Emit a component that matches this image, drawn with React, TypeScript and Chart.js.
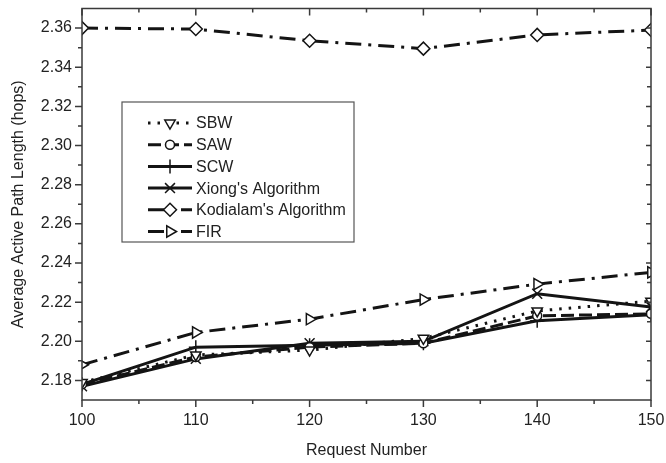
import React, { useEffect, useRef } from 'react';
import { Chart, registerables } from 'chart.js';
import { drawPoint } from 'chart.js/helpers';
Chart.register(...registerables);

const requests = [100, 110, 120, 130, 140, 150];
const sbw = [2.179, 2.193, 2.1955, 2.2015, 2.2155, 2.2205];
const saw = [2.178, 2.192, 2.197, 2.199, 2.213, 2.214];
const scw = [2.178, 2.197, 2.198, 2.199, 2.2105, 2.2135];
const xiong = [2.177, 2.191, 2.199, 2.2, 2.2243, 2.2175];
const kodialam = [2.36, 2.3595, 2.3535, 2.3495, 2.3565, 2.359];
const fir = [2.188, 2.2045, 2.2113, 2.2213, 2.2292, 2.2352];
const xTicks = [100, 110, 120, 130, 140, 150];
const xMinor = [105, 115, 125, 135, 145];
const yTicks = [2.18, 2.2, 2.22, 2.24, 2.26, 2.28, 2.3, 2.32, 2.34, 2.36];
const yMinor = [2.19, 2.21, 2.23, 2.25, 2.27, 2.29, 2.31, 2.33, 2.35];
const seriesNames = ['SBW', 'SAW', 'SCW', "Xiong's Algorithm", "Kodialam's Algorithm", 'FIR'];

const FONT = "'Liberation Sans', Arial, Helvetica, sans-serif";
const INK = '#141414';
const AXIS = '#3a3a3a';

function pts(vals: number[]) {
  return requests.map((r, i) => ({ x: r, y: vals[i] }));
}

const styles = [
  { data: sbw, dash: [2.5, 7], pointStyle: 'triangle', rotation: 180, radius: 6 },
  { data: saw, dash: [13, 5], pointStyle: 'circle', rotation: 0, radius: 4.5 },
  { data: scw, dash: [], pointStyle: 'cross', rotation: 0, radius: 7 },
  { data: xiong, dash: [], pointStyle: 'crossRot', rotation: 0, radius: 7 },
  { data: kodialam, dash: [16, 7, 3, 7], pointStyle: 'rectRot', rotation: 0, radius: 6.5 },
  { data: fir, dash: [16, 7, 3, 7], pointStyle: 'triangle', rotation: 90, radius: 6.5 },
];

const framePlugin = {
  id: 'frameTicks',
  afterDraw(chart: any) {
    const { ctx, chartArea } = chart;
    const { left, right, top, bottom } = chartArea;
    const xs = chart.scales.x;
    const ys = chart.scales.y;
    ctx.save();
    ctx.strokeStyle = AXIS;
    ctx.lineWidth = 1.5;
    ctx.setLineDash([]);
    ctx.strokeRect(left, top, right - left, bottom - top);
    ctx.beginPath();
    const tx = (v: number, len: number, lenTop: number) => {
      const px = xs.getPixelForValue(v);
      ctx.moveTo(px, bottom);
      ctx.lineTo(px, bottom + len);
      ctx.moveTo(px, top);
      ctx.lineTo(px, top + lenTop);
    };
    const ty = (v: number, len: number, lenR: number) => {
      const py = ys.getPixelForValue(v);
      ctx.moveTo(left, py);
      ctx.lineTo(left - len, py);
      ctx.moveTo(right, py);
      ctx.lineTo(right - lenR, py);
    };
    xTicks.forEach((v) => tx(v, 7, 7));
    xMinor.forEach((v) => tx(v, 4, 4));
    yTicks.forEach((v) => ty(v, 7, 5));
    yMinor.forEach((v) => ty(v, 4, 4));
    ctx.stroke();
    ctx.restore();
  },
};

const legendPlugin = {
  id: 'boxLegend',
  afterDraw(chart: any) {
    const { ctx } = chart;
    const bx = 122, by = 102, bw = 232, bh = 140;
    ctx.save();
    ctx.fillStyle = '#ffffff';
    ctx.fillRect(bx, by, bw, bh);
    ctx.strokeStyle = '#555555';
    ctx.lineWidth = 1.2;
    ctx.setLineDash([]);
    ctx.strokeRect(bx, by, bw, bh);
    ctx.font = `16px ${FONT}`;
    ctx.textBaseline = 'middle';
    ctx.textAlign = 'left';
    styles.forEach((s, i) => {
      const y = 123 + i * 21.7;
      ctx.strokeStyle = INK;
      ctx.lineWidth = 3;
      ctx.setLineDash(s.dash);
      ctx.beginPath();
      ctx.moveTo(148, y);
      ctx.lineTo(192, y);
      ctx.stroke();
      ctx.setLineDash([]);
      ctx.fillStyle = '#ffffff';
      ctx.strokeStyle = INK;
      ctx.lineWidth = 1.5;
      drawPoint(ctx, { pointStyle: s.pointStyle, radius: s.radius, rotation: s.rotation, borderWidth: 1.5 } as any, 170, y);
      ctx.fillStyle = '#222222';
      ctx.fillText(seriesNames[i], 196, y + 1);
    });
    ctx.restore();
  },
};

const zeroPad = (s: any) => {
  s.paddingTop = 0;
  s.paddingBottom = 0;
  s.paddingLeft = 0;
  s.paddingRight = 0;
};

export default function App() {
  const ref = useRef<HTMLCanvasElement | null>(null);
  useEffect(() => {
    if (!ref.current) return;
    const chart = new Chart(ref.current, {
      type: 'line',
      data: {
        datasets: styles.map((s, i) => ({
          label: seriesNames[i],
          data: pts(s.data),
          borderColor: INK,
          borderWidth: 3,
          borderDash: s.dash,
          fill: false,
          tension: 0,
          pointStyle: s.pointStyle as any,
          rotation: s.rotation,
          pointRadius: s.radius,
          pointBackgroundColor: '#ffffff',
          pointBorderColor: INK,
          pointBorderWidth: 1.5,
        })),
      },
      options: {
        animation: false,
        responsive: false,
        maintainAspectRatio: false,
        layout: { padding: { top: 7, right: 15, left: 0, bottom: 0 } },
        plugins: { legend: { display: false }, tooltip: { enabled: false } },
        scales: {
          x: {
            type: 'linear',
            min: 100,
            max: 150,
            afterBuildTicks: (s: any) => {
              s.ticks = xTicks.map((v) => ({ value: v }));
            },
            afterFit: (s: any) => {
              s.height = 63;
              zeroPad(s);
            },
            grid: { display: false, drawTicks: false },
            border: { display: false },
            ticks: {
              padding: 11,
              maxRotation: 0,
              autoSkip: false,
              color: '#222',
              font: { family: FONT, size: 16 },
              callback: (v: any) => String(v),
            },
            title: {
              display: true,
              text: 'Request Number',
              color: '#222',
              font: { family: FONT, size: 16 },
              padding: { top: 0, bottom: 3 },
            },
          },
          y: {
            type: 'linear',
            min: 2.17,
            max: 2.37,
            afterBuildTicks: (s: any) => {
              s.ticks = yTicks.map((v) => ({ value: v }));
            },
            afterFit: (s: any) => {
              s.width = 82;
              zeroPad(s);
            },
            grid: { display: false, drawTicks: false },
            border: { display: false },
            ticks: {
              padding: 10,
              autoSkip: false,
              color: '#222',
              font: { family: FONT, size: 16 },
              callback: (v: any) => Number(v).toFixed(2),
            },
            title: {
              display: true,
              text: 'Average Active Path Length (hops)',
              color: '#222',
              font: { family: FONT, size: 16 },
              padding: { top: 9, bottom: 0 },
            },
          },
        },
      },
      plugins: [framePlugin, legendPlugin],
    });
    return () => chart.destroy();
  }, []);
  return (
    <canvas
      ref={ref}
      width={666}
      height={463}
      style={{ position: 'fixed', left: 0, top: 0, width: 666, height: 463, background: '#fff' }}
    />
  );
}
